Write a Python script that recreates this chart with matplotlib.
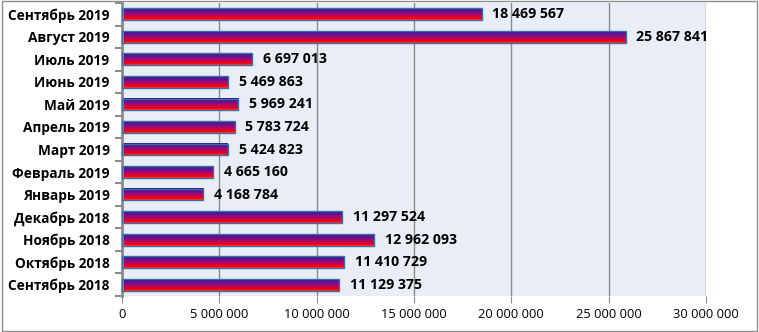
import numpy as np
import matplotlib.pyplot as plt
from matplotlib.colors import LinearSegmentedColormap
from matplotlib.patches import Rectangle

# months listed from bottom to top
months = ['Сентябрь 2018', 'Октябрь 2018', 'Ноябрь 2018', 'Декабрь 2018',
          'Январь 2019', 'Февраль 2019', 'Март 2019', 'Апрель 2019',
          'Май 2019', 'Июнь 2019', 'Июль 2019', 'Август 2019', 'Сентябрь 2019']
values = [11129375, 11410729, 12962093, 11297524,
          4168784, 4665160, 5424823, 5783724,
          5969241, 5469863, 6697013, 25867841, 18469567]
xticks = [0, 5000000, 10000000, 15000000, 20000000, 25000000, 30000000]

plt.rcParams['font.family'] = ['Open Sans', 'DejaVu Sans']

def fmt(v):
    return f'{v:,}'.replace(',', ' ')

# gradient: bottom red -> purple -> dark blue on top
cmap = LinearSegmentedColormap.from_list('bar', [(0, '#ff4040'), (0.12, '#ff0000'),
                                                 (0.5, '#a0097c'), (1, '#1e1e96')])
grad = np.linspace(0, 1, 64).reshape(-1, 1)

fig = plt.figure(figsize=(7.59, 3.32), dpi=100)
ax = fig.add_axes([122/759, 36/332, 584/759, 293/332])
ax.set_facecolor('#e9edf5')

h = 0.52
ypos = np.arange(len(months))
for y, v in zip(ypos, values):
    ax.imshow(grad, cmap=cmap, origin='lower', aspect='auto',
              extent=(0, v, y - h/2, y + h/2), zorder=2, interpolation='bilinear')
    ax.add_patch(Rectangle((0, y - h/2), v, h, fill=False, edgecolor='#3e6ea8',
                           lw=1, zorder=3))
    ax.text(v + 560000, y, fmt(v), va='center', ha='left', fontsize=10.2,
            fontweight='bold', color='black', zorder=4)

ax.set_xlim(0, 30000000)
ax.set_ylim(-0.5, len(months) - 0.5)
ax.set_xticks(xticks)
ax.set_xticklabels([fmt(t) for t in xticks], fontsize=9.3)
ax.set_yticks(ypos)
ax.set_yticklabels(months, fontsize=9.8, fontweight='bold')
ax.set_yticks(np.arange(len(months) + 1) - 0.5, minor=True)
ax.tick_params(axis='y', which='major', length=0, pad=9)
ax.tick_params(axis='y', which='minor', length=5, color='#8c8c8c', width=1.5)
ax.tick_params(axis='x', length=5, color='#8c8c8c', pad=4)
ax.grid(axis='x', color='#8c8c8c', lw=1, zorder=0)
ax.set_axisbelow(True)

for s in ['top', 'bottom', 'right']:
    ax.spines[s].set_visible(False)
ax.spines['left'].set_color('#8c8c8c')
ax.spines['left'].set_linewidth(2)

fig.patches.append(Rectangle((0.002, 0.003), 0.995, 0.993, transform=fig.transFigure,
                             fill=False, edgecolor='#8c8c8c', lw=1))

fig.savefig('out.png', dpi=100)
